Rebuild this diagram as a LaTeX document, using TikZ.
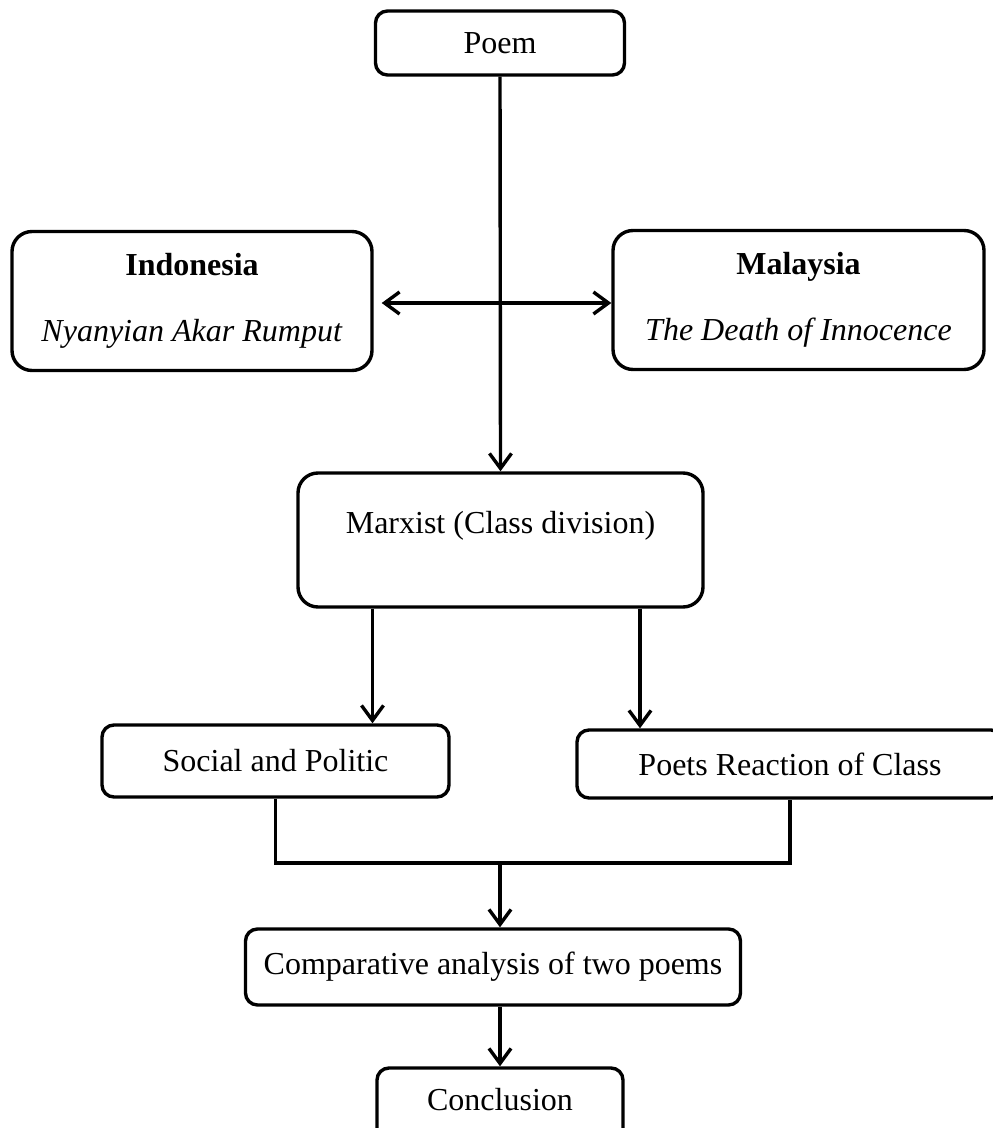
\documentclass[tikz,border=0pt]{standalone}
\usepackage{fontspec}
\setmainfont{Liberation Serif}
\usetikzlibrary{arrows.meta}
\usetikzlibrary{calc}

\begin{document}
\begin{tikzpicture}[x=0.5pt, y=-0.5pt,
  box/.style={draw, line width=1.7pt, rounded corners=6pt, align=center, inner sep=0pt,
    font=\fontsize{16}{19}\selectfont},
  arr/.style={line width=1.7pt, -{Straight Barb[length=7.5pt,width=11pt,line width=1.7pt]}},
  lnk/.style={line width=1.7pt}]
\useasboundingbox (0,0) rectangle (992,1128);
% top of the chart
\node[box, minimum width=124.5pt, minimum height=32pt] (poem) at (500,43) {Poem};
\node[box, rounded corners=10pt, minimum width=180pt, minimum height=69.5pt] (ind) at (192,301)
  {\textbf{Indonesia}\\[14pt]\textit{Nyanyian Akar Rumput}};
\node[box, rounded corners=10pt, minimum width=185.5pt, minimum height=69.5pt] (mal) at (798.5,300)
  {\textbf{Malaysia}\\[14pt]\textit{The Death of Innocence}};
\node[box, rounded corners=10pt, minimum width=202.5pt, minimum height=67pt, text depth=18pt] (marx) at (500.5,540)
  {Marxist (Class division)};
% middle
\node[box, minimum width=173.5pt, minimum height=36pt] (soc) at (275.5,761) {Social and Politic};
\node[box, minimum width=213pt, minimum height=34pt] (poet) at (790,764) {Poets Reaction of Class};
\coordinate (join) at (500,863);
% bottom
\node[box, minimum width=247.5pt, minimum height=38pt] (comp) at (493,967) {Comparative analysis of two poems};
\node[box, minimum width=123pt, minimum height=37pt, text depth=6pt] (concl) at (500,1105) {Conclusion};

\draw[arr] (poem.south) -- (marx.north);
\draw[line width=1.7pt, {Straight Barb[length=7.5pt,width=11pt,line width=1.7pt]}-{Straight Barb[length=7.5pt,width=11pt,line width=1.7pt]}, shorten <=4pt]
  ($(ind.east)+(0,2)$) -- ($(mal.west)+(0,3)$);
\draw[arr] ([xshift=-64pt]marx.south) -- ([xshift=-64pt]marx.south |- soc.north);
\draw[arr] ([xshift=69.75pt]marx.south) -- ([xshift=69.75pt]marx.south |- poet.north);
\draw[lnk] (soc.south) |- (join) -| (poet.south);
\draw[arr] (join) -- (comp.north -| join);
\draw[arr] (comp.south -| join) -- (concl.north);
\end{tikzpicture}
\end{document}
